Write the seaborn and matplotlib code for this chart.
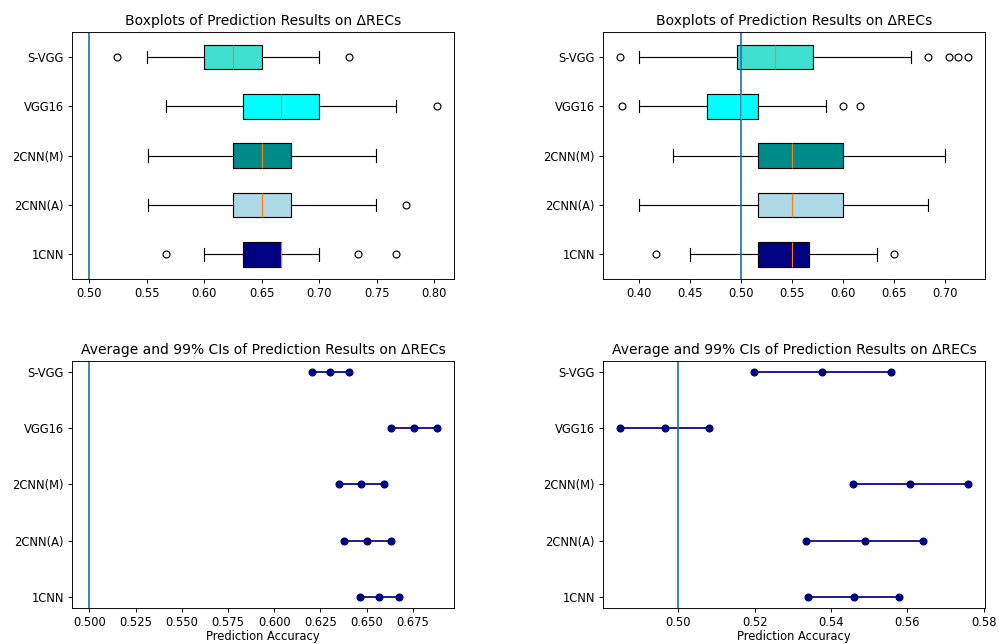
import numpy as np
import pandas as pd
import matplotlib
matplotlib.use("Agg")
import matplotlib.pyplot as plt
import seaborn as sns

# ---------------- data ----------------
models = ["S-VGG", "VGG16", "2CNN(M)", "2CNN(A)", "1CNN"]
box_colors = ["#40E0D0", "#00FFFF", "#008B8B", "#ADD8E6", "#000080"]

# left column: per-model accuracy samples
left_svgg = [0.524, 0.55, 0.60, 0.61, 0.625, 0.64, 0.65, 0.70, 0.726]
left_vgg16 = [0.5667, 0.60, 0.6333, 0.65, 0.6667, 0.68, 0.70, 0.7667, 0.802]
left_2cnn_m = [0.551, 0.60, 0.625, 0.64, 0.65, 0.66, 0.675, 0.70, 0.749]
left_2cnn_a = [0.551, 0.60, 0.625, 0.64, 0.65, 0.66, 0.675, 0.749, 0.775]
left_1cnn = [0.5667, 0.60, 0.62, 0.6333, 0.64, 0.65, 0.6667, 0.6667,
             0.6667, 0.6667, 0.70, 0.7333, 0.7667]

# right column
right_svgg = [0.382, 0.40, 0.43, 0.46, 0.48, 0.4965, 0.50, 0.51, 0.52, 0.525,
              0.5333, 0.54, 0.55, 0.56, 0.565, 0.571, 0.6667, 0.6835, 0.7042,
              0.7133, 0.7224]
right_vgg16 = [0.3833, 0.40, 0.45, 0.4667, 0.48, 0.49, 0.50, 0.505, 0.51,
               0.5167, 0.5833, 0.60, 0.6167]
right_2cnn_m = [0.4333, 0.48, 0.5167, 0.53, 0.55, 0.57, 0.60, 0.65, 0.70]
right_2cnn_a = [0.40, 0.48, 0.5167, 0.53, 0.55, 0.57, 0.60, 0.65, 0.6833]
right_1cnn = [0.4167, 0.45, 0.5167, 0.53, 0.55, 0.56, 0.5667, 0.6333, 0.65]

# average and 99% CI (order follows `models`)
left_ci_low = [0.6202, 0.6631, 0.6352, 0.6376, 0.6464]
left_mean = [0.6303, 0.6755, 0.6470, 0.6502, 0.6567]
left_ci_high = [0.6405, 0.6878, 0.6591, 0.6634, 0.6672]

right_ci_low = [0.5198, 0.4848, 0.5458, 0.5334, 0.5339]
right_mean = [0.5377, 0.4965, 0.5607, 0.5489, 0.5460]
right_ci_high = [0.5556, 0.5080, 0.5758, 0.5642, 0.5578]

chance_level = 0.5

box_title = "Boxplots of Prediction Results on ΔRECs"
ci_title = "Average and 99% CIs of Prediction Results on ΔRECs"
x_label = "Prediction Accuracy"


def long_samples(sample_lists):
    rows = []
    for m, vals in zip(models, sample_lists):
        rows += [(m, v) for v in vals]
    return pd.DataFrame(rows, columns=["model", "acc"])


def long_ci(low, mean, high):
    rows = []
    n = len(models)
    for i, m in enumerate(models):
        ypos = n - 1 - i
        for v in (low[i], mean[i], high[i]):
            rows.append((m, v, ypos))
    return pd.DataFrame(rows, columns=["model", "acc", "ypos"])


palette = dict(zip(models, box_colors))

fig, axes = plt.subplots(2, 2, figsize=(999 / 83, 644 / 83), dpi=83)
plt.subplots_adjust(left=0.072, right=0.986, top=0.950, bottom=0.056,
                    wspace=0.39, hspace=0.332)

box_sets = [
    [left_svgg, left_vgg16, left_2cnn_m, left_2cnn_a, left_1cnn],
    [right_svgg, right_vgg16, right_2cnn_m, right_2cnn_a, right_1cnn],
]
for ax, sets in zip(axes[0], box_sets):
    df = long_samples(sets)
    sns.boxplot(data=df, x="acc", y="model", order=models, hue="model",
                hue_order=models, palette=palette, saturation=1, width=0.5,
                linewidth=1, linecolor="black", fliersize=6, whis=1.5,
                flierprops=dict(marker="o", markerfacecolor="none",
                                markeredgecolor="black"),
                medianprops=dict(color="#ff7f0e"),
                legend=False, ax=ax)
    ax.axvline(chance_level, color="C0", linewidth=1.5)
    ax.set_title(box_title)
    ax.set_xlabel("")
    ax.set_ylabel("")

ci_sets = [
    (left_ci_low, left_mean, left_ci_high),
    (right_ci_low, right_mean, right_ci_high),
]
for ax, (lo, mu, hi) in zip(axes[1], ci_sets):
    cdf = long_ci(lo, mu, hi)
    sns.lineplot(data=cdf, x="acc", y="ypos", units="model", estimator=None,
                 sort=False, color="navy", marker="o", markersize=6,
                 markeredgecolor="navy", markeredgewidth=1, linewidth=1.5,
                 legend=False, ax=ax)
    ax.axvline(chance_level, color="C0", linewidth=1.5)
    ax.set_yticks(range(len(models)))
    ax.set_yticklabels(models[::-1])
    ax.set_title(ci_title)
    ax.set_xlabel(x_label, labelpad=1)
    ax.set_ylabel("")

fig.savefig("out.png", dpi=83)
